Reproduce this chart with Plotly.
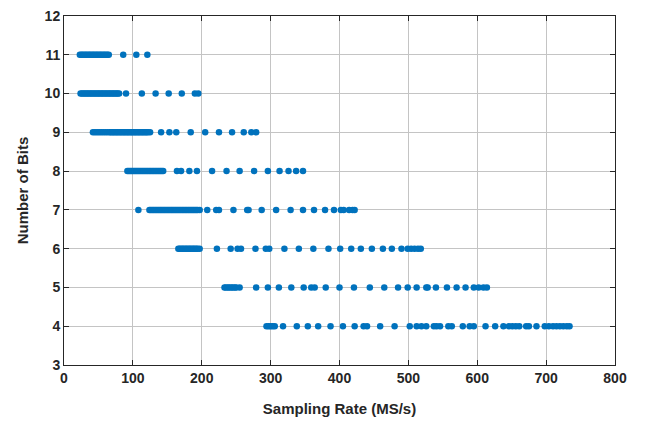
import plotly.graph_objects as go

# Sampling rate (MS/s) observed for each resolution (number of bits)
rate_11 = [23, 25, 27, 29, 31, 33, 35, 37, 39, 41, 43, 45, 47, 49, 51, 53, 55, 57, 59, 61, 63, 65,
           86, 105, 121]
rate_10 = [24, 26, 28, 30, 32, 34, 36, 38, 40, 42, 44, 46, 48, 50, 52, 54, 56, 58, 60, 62, 64, 66,
           68, 70, 72, 74, 76, 78, 80, 90, 113, 133, 152, 171, 190, 195]
rate_9 = [42, 45, 48, 51, 54, 57, 60, 63, 66, 68, 70, 72, 74, 76, 78, 80, 82, 84, 86, 88, 90, 92,
          94, 96, 98, 100, 102, 104, 106, 108, 110, 112, 114, 116, 118, 120, 122, 125,
          141, 153, 163, 184, 205, 225, 244, 261, 272, 279]
rate_8 = [92, 94, 96, 98, 100, 102, 104, 106, 108, 110, 112, 114, 116, 118, 120, 122, 124, 126,
          128, 130, 132, 134, 136, 138, 140, 142, 144,
          164, 170, 182, 193, 215, 236, 255, 276, 296, 313, 326, 337, 347]
rate_7 = [108, 124, 126, 128, 130, 132, 134, 136, 138, 140, 142, 144, 146, 148, 150, 152, 154, 156,
          158, 160, 162, 164, 166, 168, 170, 172, 174, 176, 178, 180, 182, 184, 186, 188, 190, 192,
          194, 197, 208, 221, 225, 246, 266, 268, 287, 308, 329, 347, 363, 379, 392, 402, 406,
          414, 419, 422]
rate_6 = [166, 168, 170, 172, 174, 176, 178, 180, 182, 184, 186, 188, 190, 192, 194, 197,
          222, 242, 252, 257, 278, 293, 298, 320, 341, 362, 384, 401, 417, 431, 447, 463, 476,
          490, 499, 504, 509, 514, 518]
rate_5 = [233, 235, 238, 240, 243, 245, 248, 250, 255, 279, 296, 312, 330, 348, 359, 364, 380,
          400, 421, 444, 465, 485, 499, 512, 526, 528, 540, 556, 570, 583, 595, 602, 609, 614]
rate_4 = [294, 297, 300, 303, 306, 318, 338, 354, 369, 387, 405, 422, 435, 440, 459, 480, 502,
          512, 519, 526, 537, 541, 546, 558, 563, 579, 589, 595, 612, 626, 638, 646, 651, 656,
          661, 671, 675, 686, 698, 704, 710, 715, 720, 725, 730, 734]

bits_levels = [11, 10, 9, 8, 7, 6, 5, 4]
rates = [rate_11, rate_10, rate_9, rate_8, rate_7, rate_6, rate_5, rate_4]

x_ticks = [0, 100, 200, 300, 400, 500, 600, 700, 800]
y_ticks = [3, 4, 5, 6, 7, 8, 9, 10, 11, 12]

xs, ys = [], []
for b, r in zip(bits_levels, rates):
    xs.extend(r)
    ys.extend([b] * len(r))

fig = go.Figure(go.Scatter(
    x=xs, y=ys, mode="markers",
    marker=dict(color="#0072BD", size=6.5, line=dict(width=0)),
    showlegend=False, cliponaxis=False,
))

font_family = "Liberation Sans, Arial, sans-serif"
axis_common = dict(
    showline=True, linecolor="#262626", linewidth=1, mirror="ticks",
    ticks="inside", ticklen=5, tickcolor="#262626",
    showgrid=True, gridcolor="#c4c4c4", gridwidth=1, zeroline=False,
    automargin=False, ticklabeloverflow="allow",
    tickfont=dict(family=font_family, size=14, color="#262626", weight="bold"),
)

fig.update_xaxes(range=[0, 800], tickvals=x_ticks, ticktext=[str(v) for v in x_ticks],
                 title=dict(text="Sampling Rate (MS/s)", standoff=18,
                            font=dict(family=font_family, size=15, color="#262626", weight="bold")),
                 **axis_common)
fig.update_yaxes(range=[3, 12], tickvals=y_ticks, ticktext=[str(v) for v in y_ticks],
                 title=dict(text="Number of Bits", standoff=12,
                            font=dict(family=font_family, size=15, color="#262626", weight="bold")),
                 **axis_common)

fig.update_layout(
    width=637, height=418,
    margin=dict(l=56, r=30, t=8, b=61),
    plot_bgcolor="white", paper_bgcolor="white",
)

fig.write_html("out.html")
